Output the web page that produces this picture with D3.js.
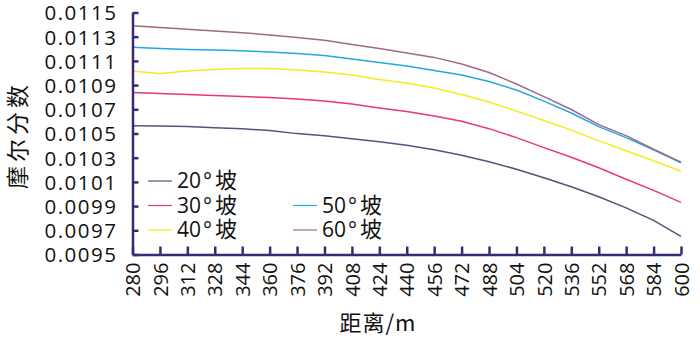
<!DOCTYPE html>
<html>
<head>
<meta charset="utf-8">
<script src="https://cdn.jsdelivr.net/npm/d3@7"></script>
<style>
  html, body { margin: 0; padding: 0; background: #fff; }
  svg { display: block; }
</style>
</head>
<body>
<svg id="chart" width="700" height="338"></svg>
<script>
// ---- data ----
const distances = [280, 296, 312, 328, 344, 360, 376, 392, 408, 424, 440, 456, 472, 488, 504, 520, 536, 552, 568, 584, 600];
const seriesNames = ["20°坡", "30°坡", "40°坡", "50°坡", "60°坡"];
const slope20 = [0.010565, 0.010561, 0.010557, 0.010548, 0.010540, 0.010524, 0.010499, 0.010482, 0.010457, 0.010432, 0.010403, 0.010366, 0.010321, 0.010267, 0.010205, 0.010134, 0.010060, 0.009977, 0.009885, 0.009782, 0.009649];
const slope30 = [0.010839, 0.010830, 0.010822, 0.010814, 0.010805, 0.010797, 0.010785, 0.010768, 0.010743, 0.010710, 0.010681, 0.010644, 0.010602, 0.010540, 0.010466, 0.010383, 0.010304, 0.010217, 0.010122, 0.010030, 0.009931];
const slope40 = [0.011017, 0.010996, 0.011017, 0.011029, 0.011038, 0.011038, 0.011025, 0.011009, 0.010984, 0.010946, 0.010917, 0.010876, 0.010822, 0.010760, 0.010685, 0.010607, 0.010528, 0.010441, 0.010358, 0.010275, 0.010188];
const slope50 = [0.011212, 0.011203, 0.011195, 0.011191, 0.011183, 0.011174, 0.011162, 0.011145, 0.011116, 0.011087, 0.011058, 0.011021, 0.010984, 0.010930, 0.010859, 0.010768, 0.010669, 0.010557, 0.010466, 0.010366, 0.010258];
const slope60 = [0.011390, 0.011377, 0.011361, 0.011348, 0.011332, 0.011315, 0.011294, 0.011270, 0.011236, 0.011203, 0.011166, 0.011129, 0.011075, 0.011004, 0.010909, 0.010805, 0.010698, 0.010573, 0.010482, 0.010370, 0.010263];
const yTicks = [0.0095, 0.0097, 0.0099, 0.0101, 0.0103, 0.0105, 0.0107, 0.0109, 0.0111, 0.0113, 0.0115];
const xTitle = "距离/m";
const yTitle = "摩尔分数";

const colors = ["#5a4f7a", "#ea3580", "#f6ec1c", "#22a9e1", "#a2688a"];
const allSeries = [slope20, slope30, slope40, slope50, slope60];

// ---- layout ----
const svg = d3.select("#chart");
const x = d3.scaleLinear().domain([280, 600]).range([132.5, 681]);
const y = d3.scaleLinear().domain([0.0095, 0.0115]).range([254.5, 12.5]);
const axisColor = "#3b2a72";

// lines
const line = d3.line().x((d, i) => x(distances[i])).y(d => y(d));
allSeries.forEach((s, k) => {
  svg.append("path")
    .datum(s)
    .attr("fill", "none")
    .attr("stroke", colors[k])
    .attr("stroke-width", 1.5)
    .attr("d", line);
});

// y axis
const yAxis = svg.append("g")
  .attr("transform", `translate(${x(280)},0)`)
  .call(d3.axisLeft(y).tickValues(yTicks).tickFormat(d3.format(".4f")).tickSize(-6).tickSizeOuter(0).tickPadding(15));
yAxis.select(".domain").attr("stroke", axisColor).attr("stroke-width", 2.5);
yAxis.selectAll(".tick line").attr("stroke", axisColor).attr("stroke-width", 2.5);
yAxis.selectAll(".tick text")
  .attr("fill", "#111")
  .style("font-family", "'Open Sans', sans-serif")
  .style("font-size", "20.5px")
  .style("letter-spacing", "1.5px")
  .attr("dy", "0.36em");

// x axis
const xAxis = svg.append("g")
  .attr("transform", `translate(0,${y(0.0095)})`)
  .call(d3.axisBottom(x).tickValues(distances).tickFormat(d3.format("d")).tickSize(-8).tickSizeOuter(0));
xAxis.select(".domain").attr("stroke", axisColor).attr("stroke-width", 2.5);
xAxis.selectAll(".tick line").attr("stroke", axisColor).attr("stroke-width", 2.5);
xAxis.selectAll(".tick text")
  .attr("fill", "#111")
  .style("font-family", "'Open Sans', sans-serif")
  .style("font-size", "20px")
  .attr("transform", "rotate(-90)")
  .attr("text-anchor", "end")
  .attr("x", -8)
  .attr("y", 0)
  .attr("dy", "0.36em");

// axis titles
svg.append("text")
  .attr("x", 378).attr("y", 331)
  .attr("text-anchor", "middle")
  .style("font-family", "'Noto Sans CJK SC', sans-serif")
  .style("font-size", "22px")
  .style("letter-spacing", "1px")
  .attr("fill", "#111")
  .text(xTitle);

svg.append("text")
  .attr("transform", "translate(16,135) rotate(-90)")
  .attr("text-anchor", "middle")
  .attr("dominant-baseline", "central")
  .style("font-family", "'Noto Sans CJK SC', sans-serif")
  .style("font-size", "23px")
  .style("letter-spacing", "4px")
  .attr("fill", "#111")
  .text(yTitle);

// legend
const legendPos = [[148, 181], [148, 205.5], [148, 230], [293, 205.5], [293, 230]];
seriesNames.forEach((name, k) => {
  const [lx, ly] = legendPos[k];
  const g = svg.append("g").attr("transform", `translate(${lx},${ly})`);
  g.append("line").attr("x1", 0).attr("x2", 24).attr("y1", 0).attr("y2", 0)
    .attr("stroke", colors[k]).attr("stroke-width", 1.2);
  const t = g.append("text")
    .attr("x", 29).attr("y", 0).attr("dy", "0.35em")
    .attr("fill", "#111")
    .style("font-family", "'Open Sans', sans-serif")
    .style("font-size", "21px");
  const deg = name.indexOf("°");
  t.append("tspan").text(name.slice(0, deg));
  t.append("tspan").attr("dx", 2).text("°");
  t.append("tspan").attr("dx", 3)
    .style("font-family", "'Noto Sans CJK SC', sans-serif")
    .style("font-size", "22px")
    .text(name.slice(deg + 1));
});
</script>
</body>
</html>
